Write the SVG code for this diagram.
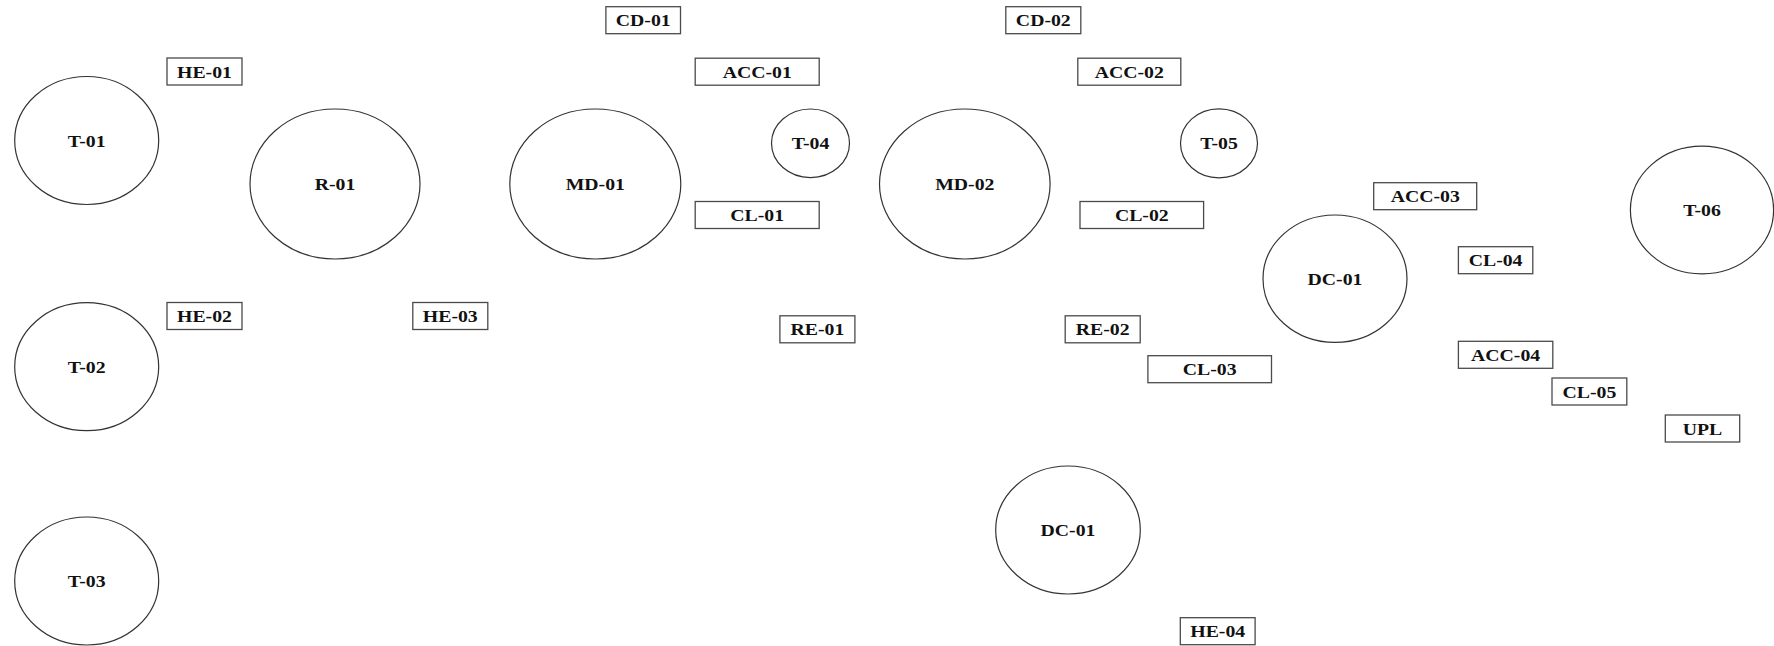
<svg xmlns="http://www.w3.org/2000/svg" width="1774" height="646" viewBox="0 0 1774 646">
  <style>
    .vessel { fill: #ffffff; stroke: #333333; stroke-width: 1.2; }
    .tag { fill: #ffffff; stroke: #4a4a4a; stroke-width: 1.3; }
    .lbl { font-family: "Liberation Serif", "Times New Roman", serif; font-weight: bold; font-size: 17.5px; fill: #111111; text-anchor: middle; }
  </style>
  <rect x="0" y="0" width="1774" height="646" fill="#ffffff"/>

  <!-- process flow lines (none drawn on this sheet) -->
  <g id="connectors"></g>

  <!-- vessels: centre at group origin, labels stretched to the sheet aspect -->
  <g id="T-01" transform="translate(86.7,140.5)"><ellipse class="vessel" rx="72" ry="64"/><text class="lbl" y="6" transform="scale(1.13,1)">T-01</text></g>
  <g id="T-02" transform="translate(86.7,366.7)"><ellipse class="vessel" rx="72" ry="64"/><text class="lbl" y="6" transform="scale(1.13,1)">T-02</text></g>
  <g id="T-03" transform="translate(86.7,581)"><ellipse class="vessel" rx="72" ry="64"/><text class="lbl" y="6" transform="scale(1.13,1)">T-03</text></g>
  <g id="R-01" transform="translate(335,184)"><ellipse class="vessel" rx="85" ry="75"/><text class="lbl" y="6" transform="scale(1.13,1)">R-01</text></g>
  <g id="MD-01" transform="translate(595.3,184)"><ellipse class="vessel" rx="85.5" ry="75"/><text class="lbl" y="6" transform="scale(1.13,1)">MD-01</text></g>
  <g id="T-04" transform="translate(810.5,143.3)"><ellipse class="vessel" rx="39" ry="34.3"/><text class="lbl" y="6" transform="scale(1.13,1)">T-04</text></g>
  <g id="MD-02" transform="translate(964.8,184)"><ellipse class="vessel" rx="85.3" ry="75"/><text class="lbl" y="6" transform="scale(1.13,1)">MD-02</text></g>
  <g id="T-05" transform="translate(1219,143.3)"><ellipse class="vessel" rx="38.5" ry="34.5"/><text class="lbl" y="6" transform="scale(1.13,1)">T-05</text></g>
  <g id="DC-01-upper" transform="translate(1335,278.7)"><ellipse class="vessel" rx="72" ry="63.7"/><text class="lbl" y="6" transform="scale(1.13,1)">DC-01</text></g>
  <g id="T-06" transform="translate(1702,210)"><ellipse class="vessel" rx="71.6" ry="63.8"/><text class="lbl" y="6" transform="scale(1.13,1)">T-06</text></g>
  <g id="DC-01-lower" transform="translate(1068,530)"><ellipse class="vessel" rx="72.3" ry="64"/><text class="lbl" y="6" transform="scale(1.13,1)">DC-01</text></g>

  <!-- equipment tags: group origin at box centre -->
  <g id="HE-01" transform="translate(204.5,71.5)"><rect class="tag" x="-37.5" y="-13.5" width="75" height="27"/><text class="lbl" y="6" transform="scale(1.13,1)">HE-01</text></g>
  <g id="HE-02" transform="translate(204.5,316)"><rect class="tag" x="-37.5" y="-13.5" width="75" height="27"/><text class="lbl" y="6" transform="scale(1.13,1)">HE-02</text></g>
  <g id="HE-03" transform="translate(450.3,316)"><rect class="tag" x="-37.5" y="-13.5" width="75" height="27"/><text class="lbl" y="6" transform="scale(1.13,1)">HE-03</text></g>
  <g id="CD-01" transform="translate(643.2,20.2)"><rect class="tag" x="-37.3" y="-13.5" width="74.6" height="27"/><text class="lbl" y="6" transform="scale(1.13,1)">CD-01</text></g>
  <g id="CD-02" transform="translate(1043.3,20.2)"><rect class="tag" x="-37.5" y="-13.5" width="75" height="27"/><text class="lbl" y="6" transform="scale(1.13,1)">CD-02</text></g>
  <g id="ACC-01" transform="translate(757.2,71.7)"><rect class="tag" x="-62" y="-13.5" width="124" height="27"/><text class="lbl" y="6" transform="scale(1.13,1)">ACC-01</text></g>
  <g id="ACC-02" transform="translate(1129.3,71.7)"><rect class="tag" x="-51.5" y="-13.5" width="103" height="27"/><text class="lbl" y="6" transform="scale(1.13,1)">ACC-02</text></g>
  <g id="CL-01" transform="translate(757.2,215)"><rect class="tag" x="-62" y="-13.5" width="124" height="27"/><text class="lbl" y="6" transform="scale(1.13,1)">CL-01</text></g>
  <g id="CL-02" transform="translate(1141.8,215)"><rect class="tag" x="-61.8" y="-13.5" width="123.6" height="27"/><text class="lbl" y="6" transform="scale(1.13,1)">CL-02</text></g>
  <g id="RE-01" transform="translate(817.4,329.3)"><rect class="tag" x="-37.5" y="-13.5" width="75" height="27"/><text class="lbl" y="6" transform="scale(1.13,1)">RE-01</text></g>
  <g id="RE-02" transform="translate(1102.7,329.3)"><rect class="tag" x="-37.5" y="-13.5" width="75" height="27"/><text class="lbl" y="6" transform="scale(1.13,1)">RE-02</text></g>
  <g id="CL-03" transform="translate(1209.7,369.2)"><rect class="tag" x="-61.8" y="-13.5" width="123.6" height="27"/><text class="lbl" y="6" transform="scale(1.13,1)">CL-03</text></g>
  <g id="ACC-03" transform="translate(1425.2,196.2)"><rect class="tag" x="-51.5" y="-13.5" width="103" height="27"/><text class="lbl" y="6" transform="scale(1.13,1)">ACC-03</text></g>
  <g id="CL-04" transform="translate(1495.6,260.2)"><rect class="tag" x="-37.2" y="-13.5" width="74.4" height="27"/><text class="lbl" y="6" transform="scale(1.13,1)">CL-04</text></g>
  <g id="ACC-04" transform="translate(1505.6,354.8)"><rect class="tag" x="-47.2" y="-13.5" width="94.4" height="27"/><text class="lbl" y="6" transform="scale(1.13,1)">ACC-04</text></g>
  <g id="CL-05" transform="translate(1589.4,391.5)"><rect class="tag" x="-37.4" y="-13.5" width="74.8" height="27"/><text class="lbl" y="6" transform="scale(1.13,1)">CL-05</text></g>
  <g id="UPL" transform="translate(1702.5,428.5)"><rect class="tag" x="-37.2" y="-13.5" width="74.4" height="27"/><text class="lbl" y="6" transform="scale(1.13,1)">UPL</text></g>
  <g id="HE-04" transform="translate(1217.7,631.2)"><rect class="tag" x="-37.4" y="-13.5" width="74.8" height="27"/><text class="lbl" y="6" transform="scale(1.13,1)">HE-04</text></g>
</svg>
